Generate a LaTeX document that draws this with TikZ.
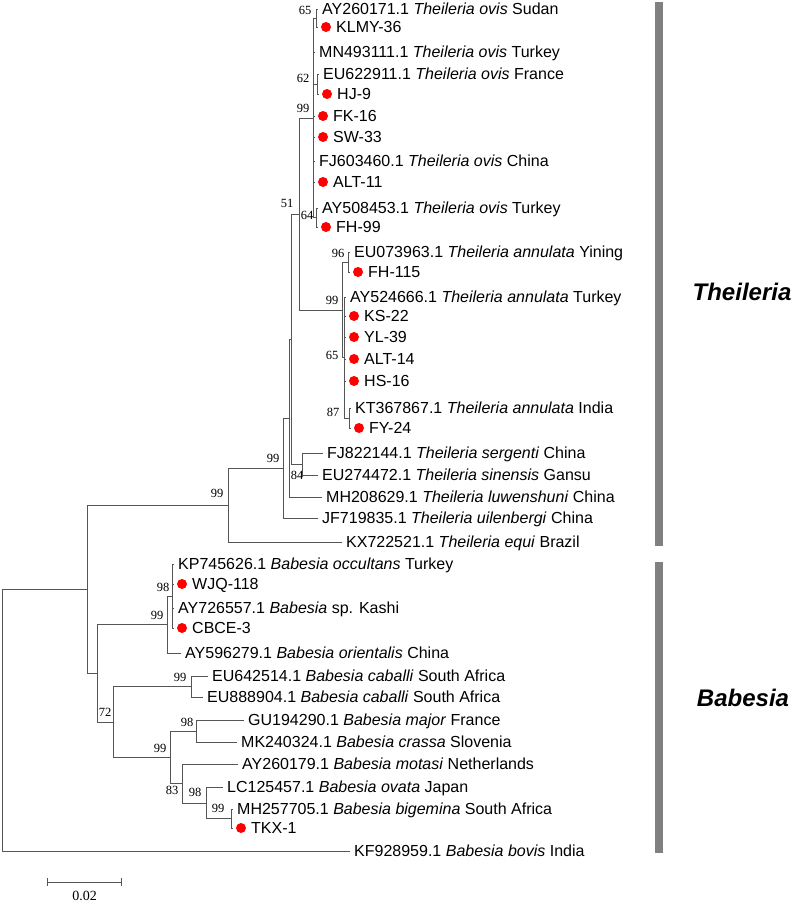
\documentclass[tikz,border=0pt]{standalone}
\usepackage{fontspec}
\setmainfont{Liberation Sans}
\newfontfamily\bootfont{Liberation Serif}
\usetikzlibrary{arrows, positioning, calc}

\definecolor{treegray}{RGB}{85,85,85}
\definecolor{cladegray}{RGB}{128,128,128}
\definecolor{isored}{RGB}{255,0,0}

\tikzset{
  branch/.style={draw=treegray, line width=0.9pt},
  taxon/.style={anchor=base west, inner sep=0pt, font=\fontsize{16}{18}\selectfont},
  isolate/.style={circle, fill=isored, inner sep=0pt, minimum size=10pt},
  boot/.style={inner sep=0pt, font=\bootfont\fontsize{12.5}{14}\selectfont},
  clade/.style={inner sep=0pt, font=\bfseries\itshape\fontsize{24}{28}\selectfont},
}

\begin{document}
\begin{tikzpicture}[x=1pt, y=-1pt]
            \useasboundingbox (0,0) rectangle (796,904);
            % internal nodes
            \coordinate (root) at (2,719);
            \coordinate (nA) at (87,589);
            \coordinate (nT) at (228,505);
            \coordinate (nT2) at (283,468);
            \coordinate (nT3) at (289,418);
            \coordinate (nT4) at (291,339);
            \coordinate (n51) at (299,214);
            \coordinate (novis) at (313,118);
            \coordinate (n65) at (316,18);
            \coordinate (n62) at (317,84);
            \coordinate (n64) at (316,217.5);
            \coordinate (nannu) at (342,310);
            \coordinate (n96) at (348,262);
            \coordinate (n65b) at (344,357.5);
            \coordinate (n87) at (349,418);
            \coordinate (n84) at (302,464);
            \coordinate (nB) at (97,673);
            \coordinate (nC) at (167,624.5);
            \coordinate (n98) at (172,596);
            \coordinate (nD) at (113,722);
            \coordinate (nE) at (191,686.5);
            \coordinate (nF) at (170,757);
            \coordinate (nG) at (196,731);
            \coordinate (nH) at (182,783.5);
            \coordinate (nI) at (206,803);
            \coordinate (nJ) at (231,818.5);
            \foreach \a/\b in {root/nA, nA/nT, nT/nT2, nT2/nT3, nT3/nT4, nT4/n51, nT4/n84,
                n51/novis, n51/nannu, novis/n65, novis/n62, novis/n64, nannu/n96, nannu/n65b,
                n65b/n87, nA/nB, nB/nC, nC/n98, nB/nD, nD/nE, nD/nF, nF/nG, nF/nH, nH/nI, nI/nJ}
                \draw[branch] (\a) |- (\b);
            % reference sequences
            \foreach \up/\x/\y/\nm/\txt in {
                n65/318/9/AY260171/{AY260171.1 \textit{Theileria ovis} Sudan},
                novis/315/52/MN493111/{MN493111.1 \textit{Theileria ovis} Turkey},
                n62/319/74/EU622911/{EU622911.1 \textit{Theileria ovis} France},
                novis/315/161/FJ603460/{FJ603460.1 \textit{Theileria ovis} China},
                n64/318/208/AY508453/{AY508453.1 \textit{Theileria ovis} Turkey},
                n96/350/252/EU073963/{EU073963.1 \textit{Theileria annulata} Yining},
                n65b/346/297/AY524666/{AY524666.1 \textit{Theileria annulata} Turkey},
                n87/351/408/KT367867/{KT367867.1 \textit{Theileria annulata} India},
                n84/323/453/FJ822144/{FJ822144.1 \textit{Theileria sergenti} China},
                n84/318/475/EU274472/{EU274472.1 \textit{Theileria sinensis} Gansu},
                nT3/322/497/MH208629/{MH208629.1 \textit{Theileria luwenshuni} China},
                nT2/318/518/JF719835/{JF719835.1 \textit{Theileria uilenbergi} China},
                nT/342/542/KX722521/{KX722521.1 \textit{Theileria equi} Brazil},
                n98/174/564/KP745626/{KP745626.1 \textit{Babesia occultans} Turkey},
                n98/174/608/AY726557/{AY726557.1 \textit{Babesia} sp. Kashi},
                nC/181/653/AY596279/{AY596279.1 \textit{Babesia orientalis} China},
                nE/208/676/EU642514/{EU642514.1 \textit{Babesia caballi} South Africa},
                nE/203/697/EU888904/{EU888904.1 \textit{Babesia caballi} South Africa},
                nG/244/720/GU194290/{GU194290.1 \textit{Babesia major} France},
                nG/237/742/MK240324/{MK240324.1 \textit{Babesia crassa} Slovenia},
                nH/238/764/AY260179/{AY260179.1 \textit{Babesia motasi} Netherlands},
                nI/223/787/LC125457/{LC125457.1 \textit{Babesia ovata} Japan},
                nJ/233/809/MH257705/{MH257705.1 \textit{Babesia bigemina} South Africa},
                root/350/851/KF928959/{KF928959.1 \textit{Babesia bovis} India}}{
                \coordinate (\nm) at (\x,\y);
                \draw[branch] (\up) |- (\nm);
                \node[taxon] (\nm-txt) at ([shift={(4,5.5)}]\nm) {\txt};
            }
            % isolates of this study
            \foreach \up/\x/\y/\nm/\txt in {
                n65/318/27/KLMY/KLMY-36, n62/319/94/HJ/HJ-9, novis/315/116/FK/FK-16,
                novis/315/137/SW/SW-33, novis/315/182/ALTa/ALT-11, n64/318/227/FHa/FH-99,
                n96/350/272/FHb/FH-115, n65b/346/316/KS/KS-22, n65b/346/337/YL/YL-39,
                n65b/346/359/ALTb/ALT-14, n65b/346/381/HS/HS-16, n87/351/428/FY/FY-24,
                n98/174/584/WJQ/WJQ-118, n98/174/628/CBCE/CBCE-3, nJ/233/828/TKX/TKX-1}{
                \coordinate (\nm) at (\x,\y);
                \draw[branch] (\up) |- (\nm);
                \node[isolate] (\nm-dot) at ([xshift=8]\nm) {};
                \node[taxon] (\nm-txt) at ([shift={(18,5.5)}]\nm) {\txt};
            }
            % bootstrap values
            \foreach \nd/\dx/\dy/\bs in {n65/-11/-8/65, n62/-14/-6/62, novis/-10/-10/99,
                n51/-12/-11/51, n64/-9/-2.5/64, n96/-10/-9/96, nannu/-10/-10/99,
                n65b/-12/-2.5/65, n87/-16/-6/87, n84/-5/11/84, nT2/-10/-10/99,
                nT/-11/-12/99, n98/-9/-9/98, nC/-10/-9.5/99, nE/-11/-9.5/99,
                nD/-8/-10/72, nG/-9/-9/98, nF/-10/-9/99, nH/-10/6.5/83,
                nI/-11/-11/98, nJ/-13/-10.5/99}
                \node[boot] (\nd-bs) at ([shift={(\dx,\dy)}]\nd) {\bs};
            % genus bars
            \fill[cladegray] (655,2) rectangle (663,546);
            \fill[cladegray] (655,562) rectangle (663,853);
            \node[clade] (theileria) at (742,292) {Theileria};
            \node[clade] (babesia) at (743,698) {Babesia};
            % scale
            \coordinate (sbl) at (47,882);
            \coordinate (sbr) at (122,882);
            \draw[branch, |-|] (sbl) -- (sbr) node[midway, below=9pt, boot, font=\bootfont\fontsize{14}{16}\selectfont] (sblabel) {0.02};
        \end{tikzpicture}
\end{document}
